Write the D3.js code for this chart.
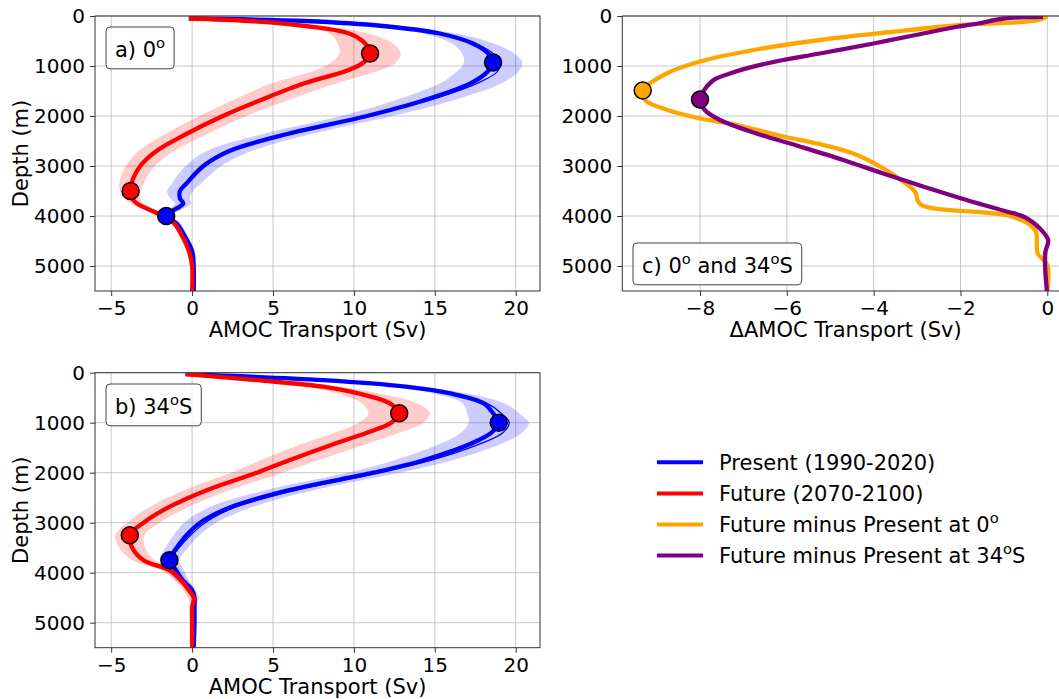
<!DOCTYPE html>
<html>
<head>
<meta charset="utf-8">
<title>AMOC profiles</title>
<script src="https://d3js.org/d3.v7.min.js"></script>
<style>
  body { margin: 0; background: #fff; }
  text { font-family: "DejaVu Sans", sans-serif; fill: #000; }
</style>
</head>
<body>
<div id="chart"></div>
<script>

// ---- panel a) 0 deg ----
var depthA = [50, 100, 200, 350, 550, 750, 930, 1100, 1350, 1700, 2000, 2350, 2700, 3000, 3350, 3500, 3650, 3750, 4000, 4150, 4350, 4700, 5000, 5500];
var presentA = [-0.2, 7.0, 11.8, 15.3, 17.35, 18.3, 18.6, 18.3, 17.2, 14.2, 10.8, 6.0, 2.3, 0.7, -0.35, -0.75, -0.75, -0.55, -1.6, -0.95, -0.55, 0.0, 0.1, 0.1];
var presentSdA = [0.1, 0.4, 0.8, 1.0, 1.3, 1.6, 1.8, 1.9, 1.9, 1.8, 1.6, 1.5, 1.4, 1.1, 0.9, 0.8, 0.6, 0.5, 0.3, 0.25, 0.2, 0.1, 0.05, 0.05];
var presentThinA = [-0.2, 7.0, 11.8, 15.3, 17.5, 18.6, 19.0, 18.9, 17.6, 14.5, 11.0, 6.2, 2.4, 0.8, -0.3, -0.7, -0.7, -0.5, -1.5, -0.9, -0.5, 0.05, 0.1, 0.1];
var futureA = [-0.2, 3.5, 7.0, 9.7, 10.7, 11.0, 10.6, 9.5, 6.9, 4.1, 1.9, -0.3, -2.2, -3.2, -3.75, -3.8, -3.7, -3.4, -1.8, -1.1, -0.7, -0.2, 0.0, 0.0];
var futureSdA = [0.1, 0.4, 0.8, 1.2, 1.7, 1.9, 2.0, 2.0, 2.0, 1.7, 1.45, 1.3, 1.1, 0.9, 0.75, 0.65, 0.5, 0.4, 0.3, 0.2, 0.15, 0.1, 0.05, 0.05];

// ---- panel b) 34S ----
var depthB = [30, 150, 280, 410, 610, 810, 1000, 1200, 1410, 1750, 2000, 2350, 2700, 3000, 3250, 3500, 3750, 3950, 4150, 4350, 4500, 4700, 5000, 5500];
var presentB = [-0.4, 8.1, 13.2, 15.9, 18.0, 18.6, 18.95, 18.5, 17.3, 14.3, 11.2, 6.0, 2.3, 0.5, -0.35, -0.95, -1.4, -1.0, -0.6, 0.0, 0.15, 0.15, 0.15, 0.1];
var presentSdB = [0.1, 0.5, 0.8, 1.0, 1.3, 1.6, 1.85, 1.9, 1.9, 1.8, 1.6, 1.5, 1.3, 1.0, 0.8, 0.7, 0.6, 0.5, 0.4, 0.2, 0.1, 0.05, 0.05, 0.05];
var presentThinB = [-0.4, 8.1, 13.2, 15.9, 18.2, 19.1, 19.6, 19.2, 17.9, 14.8, 11.6, 6.4, 2.6, 0.8, -0.1, -0.8, -1.3, -0.9, -0.5, 0.05, 0.15, 0.15, 0.15, 0.1];
var futureB = [-0.4, 4.0, 8.1, 10.2, 12.2, 12.8, 12.3, 10.8, 8.9, 6.0, 4.0, 0.9, -1.5, -3.0, -3.85, -3.7, -3.0, -1.4, -0.7, -0.2, 0.1, 0.0, 0.0, 0.0];
var futureSdB = [0.1, 0.5, 0.9, 1.3, 1.7, 1.9, 2.0, 2.0, 2.0, 1.8, 1.6, 1.4, 1.2, 1.0, 0.9, 0.8, 0.7, 0.5, 0.4, 0.35, 0.35, 0.1, 0.05, 0.05];

// ---- panel c) differences ----
var depthEq = [10, 90, 180, 320, 470, 670, 910, 1150, 1490, 1680, 1850, 2050, 2150, 2410, 2550, 2750, 3010, 3310, 3510, 3760, 4010, 4280, 4750, 4980, 5500];
var diffEq = [0.0, -0.25, -2.0, -3.6, -5.15, -6.7, -8.0, -8.77, -9.32, -9.27, -8.85, -8.0, -7.3, -6.08, -5.3, -4.47, -3.85, -3.32, -3.05, -2.93, -0.82, -0.28, -0.22, 0.0, 0.0];
var depth34S = [15, 50, 150, 220, 350, 550, 750, 950, 1150, 1310, 1670, 1880, 2080, 2350, 2610, 2880, 3150, 3410, 3680, 3910, 4010, 4250, 4480, 4750, 5500];
var diff34S = [-0.1, -1.0, -1.6, -2.1, -2.86, -4.0, -5.24, -6.47, -7.31, -7.73, -8.0, -7.89, -7.54, -6.7, -5.7, -4.7, -3.78, -2.86, -1.86, -0.94, -0.55, -0.17, 0.02, -0.05, -0.01];

var depthTicks = [0, 1000, 2000, 3000, 4000, 5000];
var transportTicks = [-5, 0, 5, 10, 15, 20];
var deltaTicks = [-8, -6, -4, -2, 0];

var legendItems = [
  {label: "Present (1990-2020)", color: "blue"},
  {label: "Future (2070-2100)", color: "red"},
  {label: "Future minus Present at 0", sup: "o", tail: "", color: "orange"},
  {label: "Future minus Present at 34", sup: "o", tail: "S", color: "purple"}
];

var width = 1059, height = 699;
var svg = d3.select("#chart").append("svg")
    .attr("width", width)
    .attr("height", height);

var curve = d3.curveCatmullRom.alpha(0.5);

function makeAxes(box, xDomain, xTicks, xLabel, yLabel) {
  var g = svg.append("g");
  var x = d3.scaleLinear().domain(xDomain).range([box.left, box.left + box.width]);
  var y = d3.scaleLinear().domain([0, 5500]).range([box.top, box.top + box.height]);

  // grid
  g.append("g").selectAll("line").data(xTicks).join("line")
    .attr("x1", d => x(d)).attr("x2", d => x(d))
    .attr("y1", box.top).attr("y2", box.top + box.height)
    .attr("stroke", "#b0b0b0").attr("stroke-opacity", 0.7);
  g.append("g").selectAll("line").data(depthTicks).join("line")
    .attr("x1", box.left).attr("x2", box.left + box.width)
    .attr("y1", d => y(d)).attr("y2", d => y(d))
    .attr("stroke", "#b0b0b0").attr("stroke-opacity", 0.7);

  var xa = g.append("g")
    .attr("transform", "translate(0," + (box.top + box.height) + ")")
    .call(d3.axisBottom(x).tickValues(xTicks).tickSize(5).tickPadding(5));
  var ya = g.append("g")
    .attr("transform", "translate(" + box.left + ",0)")
    .call(d3.axisLeft(y).tickValues(depthTicks).tickFormat(d3.format("d")).tickSize(5).tickPadding(5));
  [xa, ya].forEach(function(a) {
    a.select(".domain").remove();
    a.selectAll(".tick line").attr("stroke", "#333");
    a.selectAll("text").style("font-size", "20px").style("font-family", "DejaVu Sans").attr("fill", "#000");
  });

  g.append("text")
    .attr("x", box.left + box.width / 2)
    .attr("y", box.top + box.height + 46)
    .attr("text-anchor", "middle")
    .style("font-size", "21px")
    .text(xLabel);
  if (yLabel) {
    g.append("text")
      .attr("transform", "translate(28," + (box.top + box.height / 2) + ") rotate(-90)")
      .attr("text-anchor", "middle")
      .style("font-size", "21px")
      .text(yLabel);
  }

  var clipId = "clip" + Math.round(box.left) + "_" + Math.round(box.top);
  svg.append("clipPath").attr("id", clipId)
    .append("rect").attr("x", box.left).attr("y", box.top)
    .attr("width", box.width).attr("height", box.height);
  var plot = svg.append("g").attr("clip-path", "url(#" + clipId + ")");
  return {x: x, y: y, plot: plot, box: box};
}

function spine(ax) {
  svg.append("rect")
    .attr("x", ax.box.left).attr("y", ax.box.top)
    .attr("width", ax.box.width).attr("height", ax.box.height)
    .attr("fill", "none").attr("stroke", "#333").attr("stroke-width", 1);
}

function band(ax, depth, mean, sd, color) {
  var area = d3.area().curve(curve)
    .y(function(d, i) { return ax.y(depth[i]); })
    .x0(function(d, i) { return ax.x(mean[i] - sd[i]); })
    .x1(function(d, i) { return ax.x(mean[i] + sd[i]); });
  ax.plot.append("path").datum(mean)
    .attr("d", area).attr("fill", color).attr("fill-opacity", 0.2).attr("stroke", "none");
}

function profile(ax, depth, vals, color, lw) {
  var line = d3.line().curve(curve)
    .y(function(d, i) { return ax.y(depth[i]); })
    .x(function(d) { return ax.x(d); });
  ax.plot.append("path").datum(vals)
    .attr("d", line).attr("fill", "none").attr("stroke", color)
    .attr("stroke-width", lw).attr("stroke-linejoin", "round").attr("stroke-linecap", "butt");
}

function marker(ax, depth, vals, idx, color) {
  svg.append("circle")
    .attr("cx", ax.x(vals[idx])).attr("cy", ax.y(depth[idx]))
    .attr("r", 8.5).attr("fill", color).attr("stroke", "#000").attr("stroke-width", 1.5);
}

// text with superscript "o" pieces
function richText(g, x, y, parts, size) {
  var t = g.append("text").attr("x", x).attr("y", y).style("font-size", size + "px");
  var raised = false;
  parts.forEach(function(p) {
    var s = t.append("tspan").text(p.t);
    if (p.sup && !raised) { s.attr("dy", -0.42 * size).style("font-size", (size * 0.7) + "px"); raised = true; }
    else if (!p.sup && raised) { s.attr("dy", 0.42 * size); raised = false; }
  });
  return t;
}

function labelBox(ax, parts, left, top) {
  var g = svg.append("g");
  var t = richText(g, 0, 0, parts, 21);
  var bb = t.node().getBBox();
  var padX = 9, padY = 7;
  var bx = ax.box.left + left, by = top;
  t.attr("x", bx + padX - bb.x).attr("y", by + padY - bb.y);
  g.insert("rect", "text")
    .attr("x", bx).attr("y", by)
    .attr("width", bb.width + 2 * padX).attr("height", bb.height + 2 * padY)
    .attr("rx", 4).attr("fill", "#fff").attr("fill-opacity", 0.8)
    .attr("stroke", "#444").attr("stroke-width", 1);
  return g;
}

// ---- panel a ----
var axA = makeAxes({left: 95, top: 16, width: 445, height: 275}, [-6, 21.5], transportTicks, "AMOC Transport (Sv)", "Depth (m)");
band(axA, depthA, presentA, presentSdA, "blue");
band(axA, depthA, futureA, futureSdA, "red");
profile(axA, depthA, presentThinA, "blue", 1.3);
profile(axA, depthA, presentA, "blue", 4.3);
profile(axA, depthA, futureA, "red", 4.3);
spine(axA);
marker(axA, depthA, presentA, d3.maxIndex(presentA), "blue");
marker(axA, depthA, presentA, d3.minIndex(presentA), "blue");
marker(axA, depthA, futureA, d3.maxIndex(futureA), "red");
marker(axA, depthA, futureA, d3.minIndex(futureA), "red");
labelBox(axA, [{t: "a) 0"}, {t: "o", sup: true}], 11, 27);

// ---- panel b ----
var axB = makeAxes({left: 95, top: 372.7, width: 445, height: 275}, [-6, 21.5], transportTicks, "AMOC Transport (Sv)", "Depth (m)");
band(axB, depthB, presentB, presentSdB, "blue");
band(axB, depthB, futureB, futureSdB, "red");
profile(axB, depthB, presentThinB, "blue", 1.3);
profile(axB, depthB, presentB, "blue", 4.3);
profile(axB, depthB, futureB, "red", 4.3);
spine(axB);
marker(axB, depthB, presentB, d3.maxIndex(presentB), "blue");
marker(axB, depthB, presentB, d3.minIndex(presentB), "blue");
marker(axB, depthB, futureB, d3.maxIndex(futureB), "red");
marker(axB, depthB, futureB, d3.minIndex(futureB), "red");
labelBox(axB, [{t: "b) 34"}, {t: "o", sup: true}, {t: "S"}], 11, 384);

// ---- panel c ----
var axC = makeAxes({left: 622.3, top: 16, width: 446.7, height: 275}, [-9.79, 0.5], deltaTicks, "\u0394AMOC Transport (Sv)", null);
profile(axC, depthEq, diffEq, "orange", 4.3);
profile(axC, depth34S, diff34S, "purple", 4.3);
spine(axC);
marker(axC, depthEq, diffEq, d3.minIndex(diffEq), "orange");
marker(axC, depth34S, diff34S, d3.minIndex(diff34S), "purple");
labelBox(axC, [{t: "c) 0"}, {t: "o", sup: true}, {t: " and 34"}, {t: "o", sup: true}, {t: "S"}], 10.7, 243);

// ---- legend ----
var leg = svg.append("g");
legendItems.forEach(function(d, i) {
  var yy = 462.3 + i * 31.1;
  leg.append("line").attr("x1", 657).attr("x2", 703).attr("y1", yy).attr("y2", yy)
    .attr("stroke", d.color).attr("stroke-width", 4);
  var parts = [{t: d.label}];
  if (d.sup) { parts.push({t: d.sup, sup: true}); parts.push({t: d.tail}); }
  richText(leg, 719, yy + 7.5, parts, 21);
});
</script>
</body>
</html>
